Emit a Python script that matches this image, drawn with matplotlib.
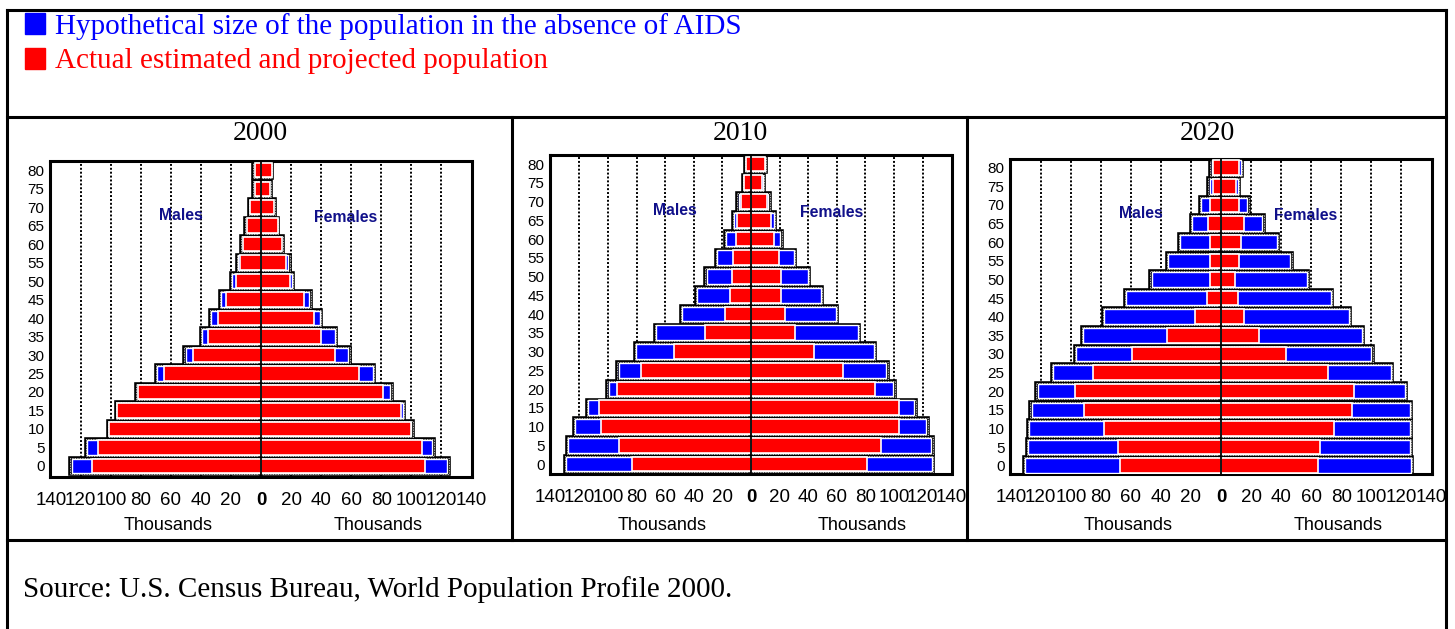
"""
    population pyramids: with and without AIDS, 2000 / 2010 / 2020
"""
import matplotlib
matplotlib.use('Agg')
from matplotlib import pyplot as plt
from matplotlib.lines import Line2D
from matplotlib.patches import Rectangle
import numpy as np

plt.rcParams['font.family'] = ['Liberation Sans', 'DejaVu Sans']

# figure size (pixels)
FIG_W = 1455
FIG_H = 629

# age groups (lower bound of each 5 year group)
ages = [0, 5, 10, 15, 20, 25, 30, 35, 40, 45, 50, 55, 60, 65, 70, 75, 80]
years = ['2000', '2010', '2020']

# thousands, from age 0 up to 80+
males_2000_hyp = [127, 116.5, 102, 96.5, 83, 70, 51, 40, 34, 27.5, 20, 16, 13, 10.5, 8, 5, 5]
males_2000_act = [112.5, 108.5, 101.5, 96, 82, 64.5, 45.5, 35, 28.5, 23.5, 16.5, 14, 12, 9.5, 7, 4, 4]
females_2000_hyp = [125, 115, 101, 95.5, 87, 75.5, 59, 50, 40, 33, 21.5, 19, 14.5, 11.5, 9, 6.5, 7.5]
females_2000_act = [109, 107, 100, 93.5, 81.5, 65.5, 49.5, 40, 35, 28.5, 19.5, 16.5, 14, 11, 8.5, 6, 7]

males_2010_hyp = [130, 128.5, 124, 114.5, 100.5, 93.5, 81, 67, 49, 38.5, 32, 24.5, 18.5, 12.5, 9.5, 5.5, 4]
males_2010_act = [83.5, 92.5, 105, 106.5, 94, 77, 53.5, 32.5, 18.5, 14.5, 13, 12.5, 10.5, 9.5, 7, 5, 3.5]
females_2010_hyp = [127.5, 127, 123.5, 115, 100.5, 95.5, 87, 75.5, 60, 49.5, 40.5, 31, 21.5, 17, 13, 9, 10.5]
females_2010_act = [81, 91, 103.5, 103.5, 86.5, 64, 44, 31, 24, 21, 21, 19.5, 16, 14, 11, 8, 9.5]

males_2020_hyp = [131.5, 129.5, 128.5, 127, 123, 112.5, 97.5, 92.5, 78.5, 64, 47, 36, 28, 20, 14, 8.5, 7]
males_2020_act = [67.5, 68.5, 78, 91, 97.5, 85.5, 59, 36, 17.5, 9.5, 7, 7, 7, 8.5, 7, 5.5, 5.5]
females_2020_hyp = [127.5, 126.5, 126.5, 126.5, 123.5, 114, 101, 94.5, 86, 74, 58, 47, 38, 28.5, 18.5, 12, 14]
females_2020_act = [64.5, 66, 75, 87, 88.5, 71, 43, 25.5, 15, 11, 9.5, 12, 13.5, 15, 12, 10, 12]

x_ticks = [-140, -120, -100, -80, -60, -40, -20, 0, 20, 40, 60, 80, 100, 120, 140]

panels = [
    (males_2000_hyp, males_2000_act, females_2000_hyp, females_2000_act),
    (males_2010_hyp, males_2010_act, females_2010_hyp, females_2010_act),
    (males_2020_hyp, males_2020_act, females_2020_hyp, females_2020_act),
]

# axes boxes in pixels: left, top, right, bottom
AX_BOX = [(50, 161, 472, 477), (550, 155, 952, 474), (1010, 159, 1432, 474)]
Y_LIM = [(-0.6, 16.5), (-0.53, 16.48), (-0.45, 16.47)]
# cell centres for the year titles
CELL_X = [260, 740, 1207]
BAR_H = 0.88
NAVY = '#10108a'
SERIF = ['Liberation Serif', 'DejaVu Serif']


def fx(px):
    return px / FIG_W


def fy(py):
    return 1 - py / FIG_H


def draw_side(ax, pos, hyp, act, sign):
    """draw one half of a pyramid (sign -1 = males, +1 = females)"""
    hyp = np.array(hyp)
    act = np.array(act)
    # outer dotted border + blue hypothetical bar
    ax.barh(pos, sign * hyp, height=BAR_H, color='blue', edgecolor='black',
            linewidth=2.6, zorder=2)
    ax.barh(pos, sign * hyp, height=BAR_H, color='none', edgecolor='white',
            linewidth=0.6, linestyle=(0, (1, 1)), zorder=2)
    ax.barh(pos, sign * (hyp - 0.9), height=BAR_H - 0.1, color='blue',
            edgecolor='white', linewidth=1.0, zorder=3)
    # red actual bar on top
    ax.barh(pos, sign * act, height=BAR_H - 0.1, color='red',
            edgecolor='white', linewidth=1.2, zorder=4)


fig = plt.figure(figsize=(FIG_W / 100, FIG_H / 100), dpi=100)

for k, (m_hyp, m_act, f_hyp, f_act) in enumerate(panels):
    l, t, r, b = AX_BOX[k]
    ax = fig.add_axes([fx(l), fy(b), fx(r - l), (b - t) / FIG_H])
    pos = np.arange(len(ages))

    # dotted vertical grid
    for gx in x_ticks[1:-1]:
        if gx != 0:
            ax.axvline(gx, color='black', linewidth=1.4, linestyle=(0, (1, 1)), zorder=1)

    draw_side(ax, pos, m_hyp, m_act, -1)
    draw_side(ax, pos, f_hyp, f_act, 1)
    ax.axvline(0, color='black', linewidth=1.3, zorder=5)

    ax.set_xlim(-140.5, 140.5)
    ax.set_ylim(*Y_LIM[k])
    ax.set_yticks(pos)
    ax.set_yticklabels([str(a) for a in ages], fontsize=11)
    ax.set_xticks(x_ticks)
    ax.set_xticklabels([str(abs(v)) for v in x_ticks], fontsize=13.5)
    ax.get_xticklabels()[7].set_fontweight('bold')
    ax.tick_params(length=0)
    ax.tick_params(axis='x', pad=11)
    ax.tick_params(axis='y', pad=4)
    for sp in ax.spines.values():
        sp.set_linestyle((0, (1, 1)))
        sp.set_linewidth(2.2)
        sp.set_color('black')

    ax.text(0.31, 0.826, 'Males', transform=ax.transAxes, ha='center', va='center',
            fontsize=11.3, fontweight='bold', color=NAVY)
    ax.text(0.70, 0.82, 'Females', transform=ax.transAxes, ha='center', va='center',
            fontsize=11.3, fontweight='bold', color=NAVY)

    # axis titles under the ticks
    fig.text(fx(l + 0.28 * (r - l)), fy(525), 'Thousands', ha='center', va='center', fontsize=13)
    fig.text(fx(l + 0.777 * (r - l)), fy(525), 'Thousands', ha='center', va='center', fontsize=13)

    fig.text(fx(CELL_X[k]), fy(133), years[k], ha='center', va='center',
             fontsize=20, family=SERIF)

# table frame
frame = [((7, 1446), (10, 10)), ((7, 7), (10, 629)), ((1446, 1446), (10, 629)),
         ((7, 1446), (117, 117)), ((7, 1446), (540, 540)),
         ((512, 512), (117, 540)), ((967, 967), (117, 540))]
for xs, ys in frame:
    fig.add_artist(Line2D([fx(xs[0]), fx(xs[1])], [fy(ys[0]), fy(ys[1])],
                          color='black', linewidth=2.2))

# legend
fig.add_artist(Rectangle((fx(25), fy(34)), fx(20), 21 / FIG_H, color='blue'))
fig.add_artist(Rectangle((fx(25), fy(69)), fx(20), 21 / FIG_H, color='red'))
fig.text(fx(55), fy(27), 'Hypothetical size of the population in the absence of AIDS',
         color='blue', fontsize=21, va='center', family=SERIF)
fig.text(fx(55), fy(61), 'Actual estimated and projected population',
         color='red', fontsize=21, va='center', family=SERIF)

fig.text(fx(23), fy(590), 'Source: U.S. Census Bureau, World Population Profile 2000.',
         fontsize=21, va='center', family=SERIF)

fig.savefig('out.png', dpi=100)
